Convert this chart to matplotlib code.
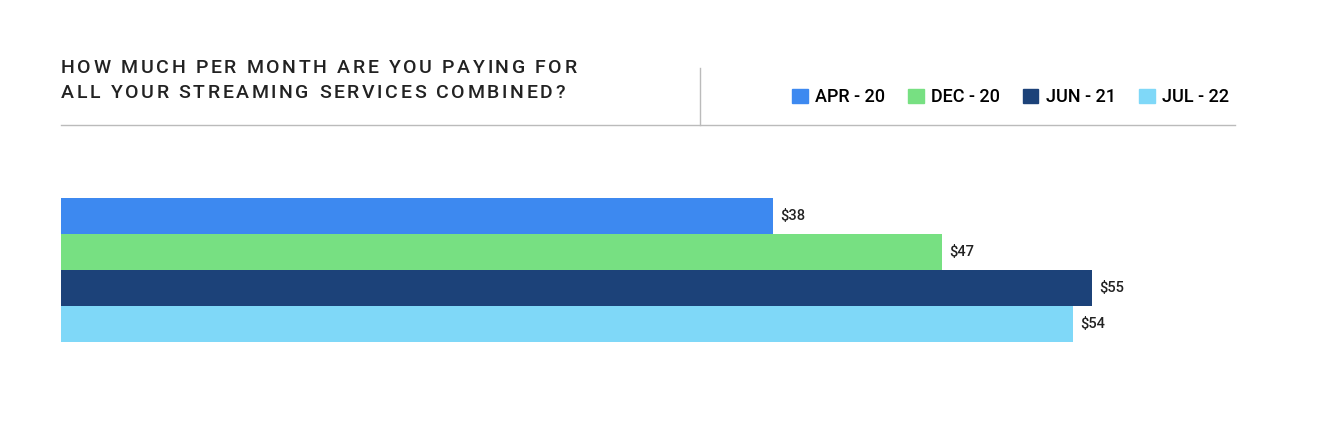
import matplotlib.pyplot as plt
from matplotlib.lines import Line2D
from matplotlib.patches import Patch

periods = ["APR - 20", "DEC - 20", "JUN - 21", "JUL - 22"]
values = [38, 47, 55, 54]
colors = ["#3D89F0", "#77E082", "#1C4279", "#7FD8F8"]
title_lines = ["HOW MUCH PER MONTH ARE YOU PAYING FOR", "ALL YOUR STREAMING SERVICES COMBINED?"]

W, H = 1344, 432
fig = plt.figure(figsize=(W / 100, H / 100), dpi=100)
plt.rcParams["font.family"] = ["Roboto", "DejaVu Sans"]

# axes: x 61..1235 px, y 160..380 px
ax = fig.add_axes([61 / W, 1 - 380 / H, (1235 - 61) / W, 220 / H])
ax.barh(range(len(values)), values, height=1.0, color=colors)
for i, v in enumerate(values):
    ax.text(v + 0.4, i, f"${v}", va="center", ha="left", fontsize=10.5,
            color="#222222", fontweight="medium")
ax.set_xlim(0, (1235 - 61) / 18.74)
ax.set_ylim(4.556, -1.556)
ax.axis("off")

# title with letter spacing, drawn char by char
renderer = fig.canvas.get_renderer()
tracking = 2.6  # px between letters
for line, ypx in zip(title_lines, [68, 93]):
    x = 61
    for ch in line:
        t = fig.text(x / W, 1 - ypx / H, ch, fontsize=14, ha="left", va="center",
                     color="#222222", fontweight="medium")
        if ch == " ":
            w = 5
        else:
            w = t.get_window_extent(renderer).width
        x += w + tracking

fig.add_artist(Line2D([61 / W, 1235 / W], [1 - 125 / H] * 2, color="#bbbbbb", lw=1))
fig.add_artist(Line2D([700 / W] * 2, [1 - 68 / H, 1 - 125 / H], color="#bbbbbb", lw=1))

handles = [Patch(color=c, label=p) for c, p in zip(colors, periods)]
fig.legend(handles=handles, loc="center right", bbox_to_anchor=(1245 / W, 1 - 97 / H),
           ncol=4, frameon=False, handlelength=0.85, handleheight=0.85,
           handletextpad=0.4, columnspacing=1.3,
           prop={"size": 13, "weight": "medium"})

fig.savefig("out.png", dpi=100)
